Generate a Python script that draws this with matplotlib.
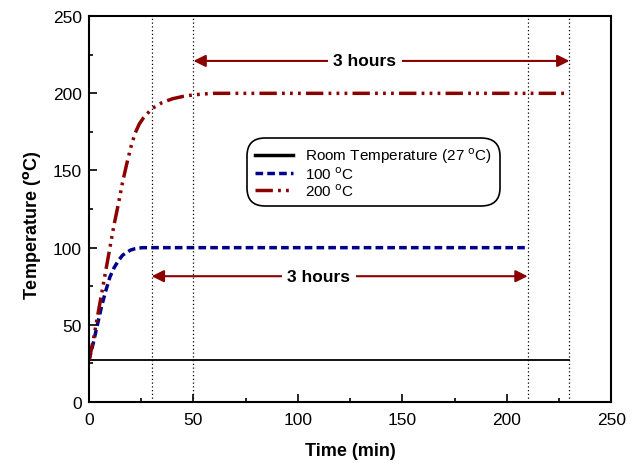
import numpy as np
import matplotlib
matplotlib.use("Agg")
from matplotlib import pyplot as plt
from matplotlib.ticker import MultipleLocator

plt.rcParams['font.family'] = ['Liberation Sans', 'DejaVu Sans']

# heating profiles (time in min, temperature in degC)
t_room = [0, 230]
T_room = [27, 27]

t_100 = [0, 2, 4, 6, 8, 10, 12, 14, 16, 18, 20, 22, 24, 26, 28, 30, 40, 210]
T_100 = [27, 38, 50, 62, 72, 81, 87, 91.5, 95, 97, 98.5, 99.3, 99.8, 100, 100, 100, 100, 100]

t_200 = [0, 2, 4, 6, 8, 10, 12, 14, 16, 18, 20, 22, 24, 26, 28, 30, 35, 40, 45, 50, 55, 60, 230]
T_200 = [27, 40, 55, 70, 85, 100, 115, 128, 142, 154, 165, 174, 180, 184, 187, 190, 194,
         196.5, 198, 199, 199.6, 200, 200]

# start/end of the 3 hour holding windows
marks = [30, 50, 210, 230]
spans = [(50, 230, 221, 132), (30, 210, 81.5, 110)]  # x0, x1, y, label x

dark_red = '#8B0000'
navy = '#00008B'

fig = plt.figure(figsize=(6.36, 4.64), dpi=100)
ax = fig.add_axes([0.140, 0.1315, 0.821, 0.8315])

ax.plot(t_room, T_room, color='black', lw=1.3, label='Room Temperature (27 $^{\\mathrm{o}}$C)')
ax.plot(t_100, T_100, color=navy, lw=2.5, linestyle=(0, (2.2, 1.2)), label='100 $^{\\mathrm{o}}$C')
ax.plot(t_200, T_200, color=dark_red, lw=2.5,
        linestyle=(0, (5, 1.5, 0.8, 1.5, 0.8, 1.5, 0.8, 1.5)), label='200 $^{\\mathrm{o}}$C')

for m in marks:
    ax.axvline(m, color='black', lw=0.9, linestyle=(0, (1, 2)))

for x0, x1, y, xt in spans:
    ax.annotate('', xy=(x0, y), xytext=(x1, y),
                arrowprops=dict(arrowstyle='<|-|>', color=dark_red, lw=1.5,
                                mutation_scale=18, shrinkA=0, shrinkB=0))
    ax.text(xt, y, '3 hours', ha='center', va='center', fontsize=12.5, fontweight='bold',
            bbox=dict(facecolor='white', edgecolor='none', pad=4))

leg = ax.legend(loc='upper left', bbox_to_anchor=(0.288, 0.705), fontsize=11,
                frameon=True, fancybox=True, framealpha=1, edgecolor='black',
                handlelength=2.5, handletextpad=0.8, borderpad=0.5, labelspacing=0.02)
leg.get_frame().set_linewidth(1.2)
leg.get_frame().set_boxstyle('round,pad=0,rounding_size=1.2')
leg.get_lines()[0].set_linewidth(2.5)

ax.set_xlim(0, 250)
ax.set_ylim(0, 250)
ax.xaxis.set_major_locator(MultipleLocator(50))
ax.xaxis.set_minor_locator(MultipleLocator(25))
ax.yaxis.set_major_locator(MultipleLocator(50))
ax.yaxis.set_minor_locator(MultipleLocator(25))
ax.tick_params(which='both', direction='in', labelsize=12.5, width=1.2, pad=5)
ax.tick_params(axis='x', pad=7)
ax.tick_params(which='major', length=6)
ax.tick_params(which='minor', length=3)
for s in ax.spines.values():
    s.set_linewidth(1.5)

ax.set_xlabel('Time (min)', fontsize=13, fontweight='bold', labelpad=11)
ax.set_ylabel('Temperature ($^{\\mathbf{o}}$C)', fontsize=13, fontweight='bold')
ax.yaxis.set_label_coords(-0.088, 0.46)

fig.savefig('out.png', dpi=100)
